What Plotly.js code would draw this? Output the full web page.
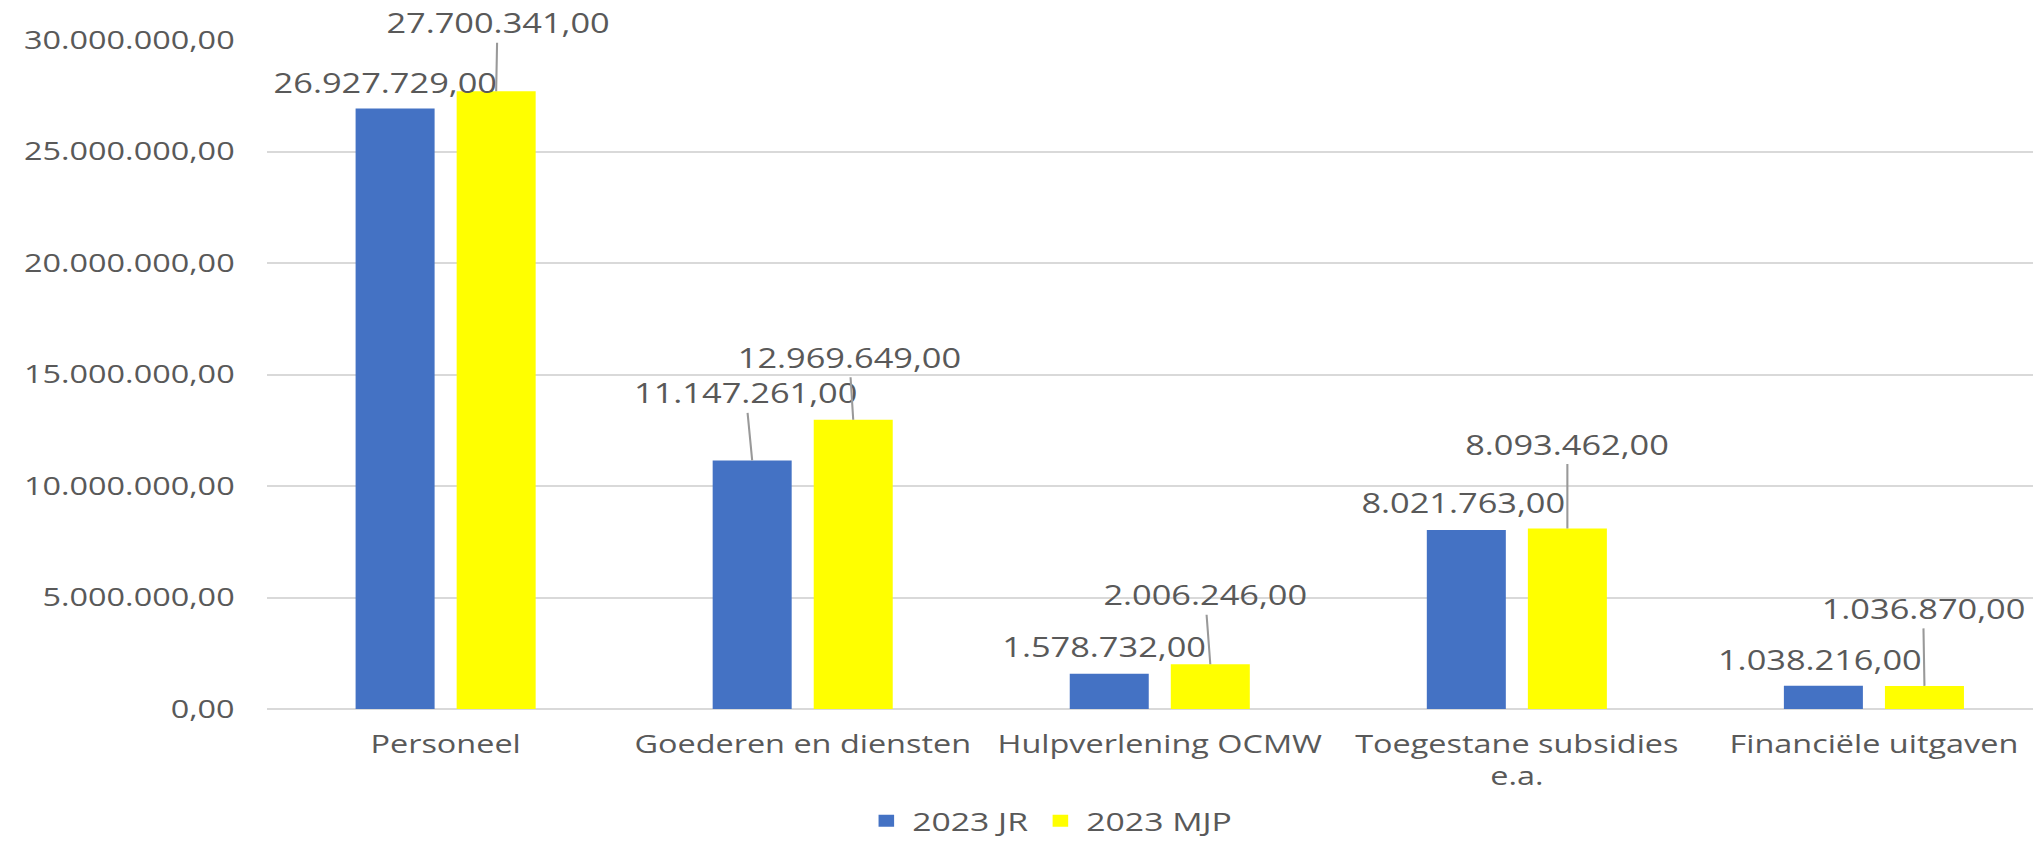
<!DOCTYPE html>
<html>
<head>
<meta charset="utf-8">
<script src="https://cdn.plot.ly/plotly-3.0.1.min.js"></script>
<style>
  html, body { margin: 0; padding: 0; overflow: hidden; background: #ffffff; width: 2033px; height: 841px; }
  #chart { width: 1600px; height: 841px; transform: scaleX(1.29656); transform-origin: 0 0; }
</style>
</head>
<body>
<div id="chart"></div>
<script>
// ---- data ----
const categories = ['Personeel', 'Goederen en diensten', 'Hulpverlening OCMW', 'Toegestane subsidies<br>e.a.', 'Financiële uitgaven'];
const seriesNames = ['2023 JR', '2023 MJP'];
const valuesJR = [26927729, 11147261, 1578732, 8021763, 1038216];
const valuesMJP = [27700341, 12969649, 2006246, 8093462, 1036870];
const yTickValues = [0, 5000000, 10000000, 15000000, 20000000, 25000000, 30000000];

// ---- style ----
const colJR = '#4472C4';
const colMJP = '#FFFF00';
const textCol = '#595959';
const FONT = '"Open Sans", sans-serif';
const BARGAP = 0.434;
const BARGROUPGAP = 0.218;
// label offsets (px) relative to bar top: [ax, ay, showLeader]
const offJR = [[-8, -26, false], [-5, -67, true], [-4, -27, false], [-2, -27, false], [-3, -26, false]];
const offMJP = [[1, -68, true], [-3, -62, true], [-4, -69, true], [0, -84, true], [-1, -77, true]];

function fmt(v) {
  const s = Math.round(v).toString().replace(/\B(?=(\d{3})+(?!\d))/g, '.');
  return s + ',00';
}

const traces = [
  { type: 'bar', name: seriesNames[0], x: categories, y: valuesJR, marker: { color: colJR }, hoverinfo: 'skip' },
  { type: 'bar', name: seriesNames[1], x: categories, y: valuesMJP, marker: { color: colMJP }, hoverinfo: 'skip' }
];

const barShift = (1 - BARGAP) / 4;
const annotations = [];
function addLabels(vals, offs, sign) {
  vals.forEach((v, i) => {
    const o = offs[i];
    annotations.push({
      x: i + sign * barShift, y: v, xref: 'x', yref: 'y',
      text: fmt(v),
      showarrow: true, arrowhead: 0, arrowwidth: 1.6,
      arrowcolor: o[2] ? '#999999' : 'rgba(0,0,0,0)',
      ax: o[0], ay: o[1],
      font: { family: FONT, size: 26.5, color: textCol }
    });
  });
}
addLabels(valuesJR, offJR, -1);
addLabels(valuesMJP, offMJP, 1);

const layout = {
  width: 1600, height: 841,
  margin: { l: 206, r: 17, t: 40, b: 132 },
  paper_bgcolor: '#ffffff', plot_bgcolor: '#ffffff',
  separators: ',.',
  barmode: 'group', bargap: BARGAP, bargroupgap: BARGROUPGAP,
  showlegend: true,
  legend: {
    orientation: 'h', xref: 'container', x: 0.506, xanchor: 'center',
    yref: 'container', y: 0.024, yanchor: 'middle',
    font: { family: FONT, size: 26, color: textCol },
    traceorder: 'normal'
  },
  xaxis: {
    type: 'category', showgrid: false, zeroline: false, showline: false,
    ticks: '', ticklabelstandoff: 18,
    tickfont: { family: FONT, size: 25, color: textCol },
    fixedrange: true
  },
  yaxis: {
    range: [0, 30000000], tickvals: yTickValues, tickformat: ',.2f',
    showgrid: true, gridcolor: '#d9d9d9', gridwidth: 2,
    zeroline: true, zerolinecolor: '#d9d9d9', zerolinewidth: 2,
    showline: false, ticks: '', ticklabelstandoff: 24,
    tickfont: { family: FONT, size: 25, color: textCol },
    fixedrange: true
  },
  annotations: annotations
};

Plotly.newPlot('chart', traces, layout, { displayModeBar: false, staticPlot: true });
</script>
</body>
</html>
